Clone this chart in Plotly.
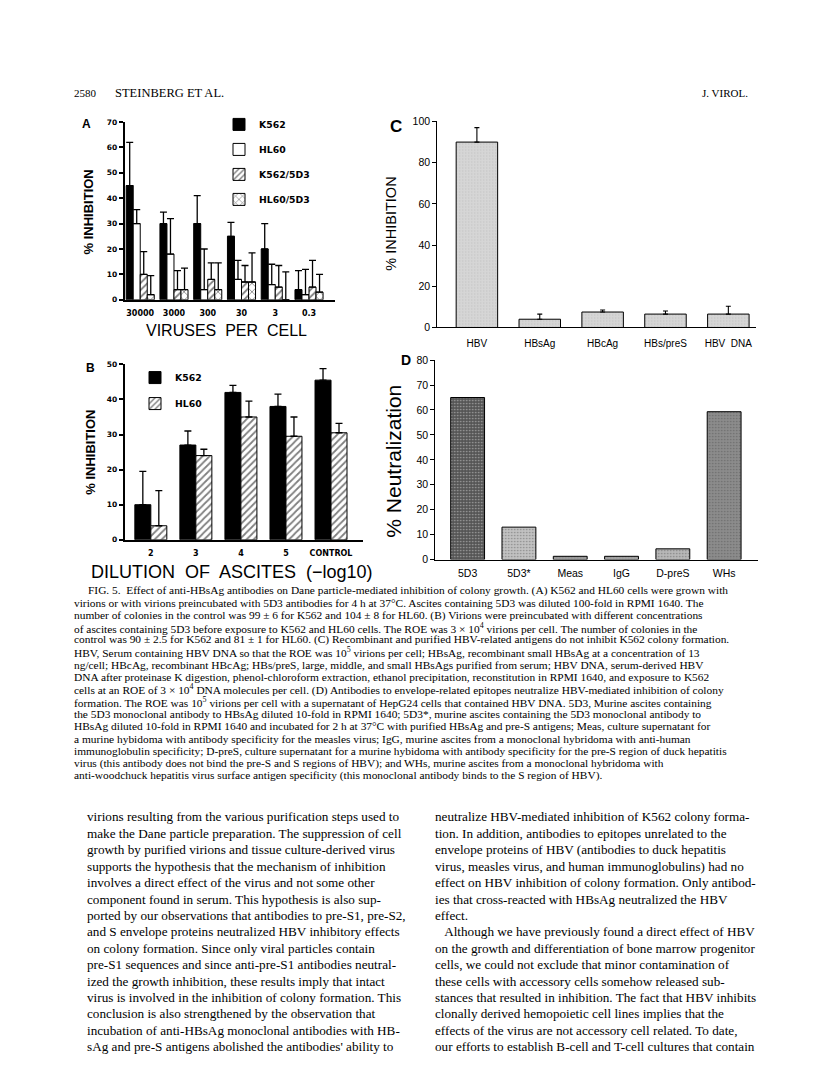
import plotly.graph_objects as go

W, H = 816, 1077


def px(x):
    return x / W


def py(y):
    return 1 - y / H


# ---- panel A: viruses per cell ----
a_doses = ["30000", "3000", "300", "30", "3", "0.3"]
a_k562 = [45, 30, 30, 25, 20, 4]
a_k562_sd = [17, 4.5, 11, 5.5, 10, 7.5]
a_hl60 = [30, 18, 4, 8, 6, 2]
a_hl60_sd = [5.5, 14, 16, 7.5, 8, 10]
a_k562_5d3 = [10, 4, 8, 7, 5, 5]
a_k562_5d3_sd = [9, 7.5, 6.5, 6.5, 8.5, 10.5]
a_hl60_5d3 = [2, 4, 4, 7, 0, 3]
a_hl60_5d3_sd = [7.5, 8.5, 10.5, 11.5, 11, 7]

# ---- panel B: dilution of ascites ----
b_dilutions = ["2", "3", "4", "5", "CONTROL"]
b_k562 = [10, 27, 42, 38, 45.5]
b_k562_sd = [9.5, 4, 2, 3.5, 3.3]
b_hl60 = [4, 24, 35, 29.5, 30.5]
b_hl60_sd = [10, 1.8, 4.5, 5.5, 2.7]

# ---- panel C: antigens ----
c_antigens = ["HBV", "HBsAg", "HBcAg", "HBs/preS", "HBV  DNA"]
c_inhibition = [90, 4, 7.5, 6.5, 6.5]
c_sd = [7, 2.5, 1, 1.5, 3.8]

# ---- panel D: antibodies ----
d_antibodies = ["5D3", "5D3*", "Meas", "IgG", "D-preS", "WHs"]
d_neutralization = [65, 13, 1.3, 1.3, 4.3, 59.3]
d_fill = ["#555555", "#c2c2c2", "#9c9c9c", "#a4a4a4", "#b8b8b8", "#8c8c8c"]
d_speck = ["#303030", "#9a9a9a", "#777777", "#7d7d7d", "#8e8e8e", "#636363"]

header_left = ["2580", "STEINBERG ET AL."]
header_right = "J. VIROL."

caption = [
    "FIG. 5.  Effect of anti-HBsAg antibodies on Dane particle-mediated inhibition of colony growth. (A) K562 and HL60 cells were grown with",
    "virions or with virions preincubated with 5D3 antibodies for 4 h at 37°C. Ascites containing 5D3 was diluted 100-fold in RPMI 1640. The",
    "number of colonies in the control was 99 ± 6 for K562 and 104 ± 8 for HL60. (B) Virions were preincubated with different concentrations",
    "of ascites containing 5D3 before exposure to K562 and HL60 cells. The ROE was 3 × 10<sup>4</sup> virions per cell. The number of colonies in the",
    "control was 90 ± 2.5 for K562 and 81 ± 1 for HL60. (C) Recombinant and purified HBV-related antigens do not inhibit K562 colony formation.",
    "HBV, Serum containing HBV DNA so that the ROE was 10<sup>5</sup> virions per cell; HBsAg, recombinant small HBsAg at a concentration of 13",
    "ng/cell; HBcAg, recombinant HBcAg; HBs/preS, large, middle, and small HBsAgs purified from serum; HBV DNA, serum-derived HBV",
    "DNA after proteinase K digestion, phenol-chloroform extraction, ethanol precipitation, reconstitution in RPMI 1640, and exposure to K562",
    "cells at an ROE of 3 × 10<sup>4</sup> DNA molecules per cell. (D) Antibodies to envelope-related epitopes neutralize HBV-mediated inhibition of colony",
    "formation. The ROE was 10<sup>5</sup> virions per cell with a supernatant of HepG24 cells that contained HBV DNA. 5D3, Murine ascites containing",
    "the 5D3 monoclonal antibody to HBsAg diluted 10-fold in RPMI 1640; 5D3*, murine ascites containing the 5D3 monoclonal antibody to",
    "HBsAg diluted 10-fold in RPMI 1640 and incubated for 2 h at 37°C with purified HBsAg and pre-S antigens; Meas, culture supernatant for",
    "a murine hybidoma with antibody specificity for the measles virus; IgG, murine ascites from a monoclonal hybridoma with anti-human",
    "immunoglobulin specificity; D-preS, culture supernatant for a murine hybidoma with antibody specificity for the pre-S region of duck hepatitis",
    "virus (this antibody does not bind the pre-S and S regions of HBV); and WHs, murine ascites from a monoclonal hybridoma with",
    "anti-woodchuck hepatitis virus surface antigen specificity (this monoclonal antibody binds to the S region of HBV).",
]

body_left = [
    "virions resulting from the various purification steps used to",
    "make the Dane particle preparation. The suppression of cell",
    "growth by purified virions and tissue culture-derived virus",
    "supports the hypothesis that the mechanism of inhibition",
    "involves a direct effect of the virus and not some other",
    "component found in serum. This hypothesis is also sup-",
    "ported by our observations that antibodies to pre-S1, pre-S2,",
    "and S envelope proteins neutralized HBV inhibitory effects",
    "on colony formation. Since only viral particles contain",
    "pre-S1 sequences and since anti-pre-S1 antibodies neutral-",
    "ized the growth inhibition, these results imply that intact",
    "virus is involved in the inhibition of colony formation. This",
    "conclusion is also strengthened by the observation that",
    "incubation of anti-HBsAg monoclonal antibodies with HB-",
    "sAg and pre-S antigens abolished the antibodies' ability to",
]

body_right = [
    "neutralize HBV-mediated inhibition of K562 colony forma-",
    "tion. In addition, antibodies to epitopes unrelated to the",
    "envelope proteins of HBV (antibodies to duck hepatitis",
    "virus, measles virus, and human immunoglobulins) had no",
    "effect on HBV inhibition of colony formation. Only antibod-",
    "ies that cross-reacted with HBsAg neutralized the HBV",
    "effect.",
    "   Although we have previously found a direct effect of HBV",
    "on the growth and differentiation of bone marrow progenitor",
    "cells, we could not exclude that minor contamination of",
    "these cells with accessory cells somehow released sub-",
    "stances that resulted in inhibition. The fact that HBV inhibits",
    "clonally derived hemopoietic cell lines implies that the",
    "effects of the virus are not accessory cell related. To date,",
    "our efforts to establish B-cell and T-cell cultures that contain",
]

HEAVY = dict(family="DejaVu Sans", color="black", weight="bold")
SANS = dict(family="Liberation Sans", color="black")
SERIF = dict(family="Liberation Serif", color="black")


def err(sd, cap=3.5, thick=1.3):
    return dict(type="data", symmetric=False, array=sd, arrayminus=[0] * len(sd),
                color="black", thickness=thick, width=cap)


fig = go.Figure()

# panel A bars
bw = 0.208
a_series = [
    ("K562", a_k562, a_k562_sd, dict(color="black")),
    ("HL60", a_hl60, a_hl60_sd, dict(color="white")),
    ("K562/5D3", a_k562_5d3, a_k562_5d3_sd,
     dict(color="white", pattern=dict(shape="/", fgcolor="black", bgcolor="white", size=5, solidity=0.35))),
    ("HL60/5D3", a_hl60_5d3, a_hl60_5d3_sd,
     dict(color="white", pattern=dict(shape="x", fgcolor="black", bgcolor="white", size=6, solidity=0.25))),
]
for i, (name, vals, sd, mk) in enumerate(a_series):
    mk = dict(mk, line=dict(color="black", width=1))
    fig.add_trace(go.Bar(
        x=list(range(len(a_doses))), y=vals, name=name, marker=mk,
        width=bw, offset=-2 * bw + i * bw, error_y=err(sd),
        xaxis="x", yaxis="y", legend="legend", legendgroup=name,
    ))

# panel B bars
bw_b = 0.355
b_series = [
    ("K562", b_k562, b_k562_sd, dict(color="black")),
    ("HL60", b_hl60, b_hl60_sd,
     dict(color="white", pattern=dict(shape="/", fgcolor="black", bgcolor="white", size=5, solidity=0.35))),
]
for i, (name, vals, sd, mk) in enumerate(b_series):
    mk = dict(mk, line=dict(color="black", width=1))
    fig.add_trace(go.Bar(
        x=list(range(len(b_dilutions))), y=vals, name=name, marker=mk,
        width=bw_b, offset=-bw_b + i * bw_b, error_y=err(sd, cap=3.5),
        xaxis="x3", yaxis="y3", legend="legend2", legendgroup="b" + name,
    ))

# panel C bars
fig.add_trace(go.Bar(
    x=list(range(len(c_antigens))), y=c_inhibition, width=0.66, showlegend=False,
    marker=dict(color="#d3d3d3", line=dict(color="black", width=1),
                pattern=dict(shape=".", fgcolor="#a8a8a8", bgcolor="#d6d6d6", size=3, solidity=0.15)),
    error_y=err(c_sd, cap=2.5, thick=1.1), xaxis="x2", yaxis="y2",
))

# panel D bars
fig.add_trace(go.Bar(
    x=list(range(len(d_antibodies))), y=d_neutralization, width=0.66, showlegend=False,
    marker=dict(color=d_fill, line=dict(color="black", width=1),
                pattern=dict(shape=".", fgcolor=d_speck, bgcolor=d_fill, size=3, solidity=0.2)),
    xaxis="x4", yaxis="y4",
))

hidden_tick = dict(ticks="outside", tickcolor="rgba(0,0,0,0)")
common = dict(showgrid=False, zeroline=False, showline=True, linecolor="black", fixedrange=True)

fig.update_layout(
    width=W, height=H, margin=dict(l=0, r=0, t=0, b=0),
    paper_bgcolor="white", plot_bgcolor="white", barmode="overlay",
    xaxis=dict(common, domain=[px(116.7), px(327)], range=[-0.46, 5.77], anchor="y",
               tickvals=list(range(len(a_doses))), ticktext=a_doses, linewidth=2,
               ticklen=5, tickfont=dict(HEAVY, size=8), **hidden_tick),
    yaxis=dict(common, domain=[py(289), py(109.3)], range=[0, 70], anchor="x", dtick=10,
               linewidth=2, ticks="outside", ticklen=4, tickwidth=1.5, tickcolor="black",
               tickfont=dict(HEAVY, size=7.5)),
    xaxis3=dict(common, domain=[px(116.7), px(355)], range=[-0.58, 4.71], anchor="y3",
                tickvals=list(range(len(b_dilutions))), ticktext=b_dilutions, linewidth=2,
                ticklen=5, tickfont=dict(HEAVY, size=8), **hidden_tick),
    yaxis3=dict(common, domain=[py(531.7), py(354.3)], range=[0, 50], anchor="x3", dtick=10,
                linewidth=2, ticks="outside", ticklen=4, tickwidth=1.5, tickcolor="black",
                tickfont=dict(HEAVY, size=7.5)),
    xaxis2=dict(common, domain=[px(429.3), px(748)], range=[-0.63, 4.44], anchor="y2",
                tickvals=list(range(len(c_antigens))), ticktext=c_antigens, linewidth=1.2,
                ticklen=6, tickfont=dict(SANS, size=10), **hidden_tick),
    yaxis2=dict(common, domain=[py(317), py(108.7)], range=[0, 100], anchor="x2", dtick=20,
                linewidth=1.2, ticks="outside", ticklen=4, tickwidth=1, tickcolor="black",
                tickfont=dict(SANS, size=10.5)),
    xaxis4=dict(common, domain=[px(427.3), px(750)], range=[-0.63, 5.66], anchor="y4",
                tickvals=list(range(len(d_antibodies))), ticktext=d_antibodies, linewidth=1.2,
                ticklen=4, tickfont=dict(SANS, size=10.5), **hidden_tick),
    yaxis4=dict(common, domain=[py(551.7), py(350)], range=[0, 80], anchor="x4", dtick=10,
                linewidth=1.2, ticks="outside", ticklen=4, tickwidth=1, tickcolor="black",
                tickfont=dict(SANS, size=10.5)),
    legend=dict(x=px(211), y=py(97), xanchor="left", yanchor="top", bgcolor="rgba(0,0,0,0)",
                font=dict(HEAVY, size=9.3), tracegroupgap=6, itemwidth=30),
    legend2=dict(x=px(127), y=py(353), xanchor="left", yanchor="top", bgcolor="rgba(0,0,0,0)",
                 font=dict(HEAVY, size=9.3), tracegroupgap=7, itemwidth=30),
)


def note(text, x, y, font, xanchor="left", angle=0):
    fig.add_annotation(text=text, x=px(x), y=py(y), xref="paper", yref="paper",
                       xanchor=xanchor, yanchor="middle", showarrow=False,
                       font=font, textangle=angle)


# page header
note(header_left[0], 64, 80, dict(SERIF, size=11))
note(header_left[1], 105, 80, dict(SERIF, size=12.5))
note(header_right, 742, 80, dict(SERIF, size=11), xanchor="right")

# panel letters and axis titles
note("A", 78.5, 111, dict(SANS, size=12, weight="bold"), xanchor="center")
note("B", 82.5, 358, dict(SANS, size=12, weight="bold"), xanchor="center")
note("C", 387.5, 114, dict(SANS, size=17, weight="bold"), xanchor="center")
note("D", 398, 350, dict(SANS, size=14, weight="bold"), xanchor="center")
note("% INHIBITION", 80.7, 200, dict(SANS, size=13, weight="bold"), xanchor="center", angle=-90)
note("% INHIBITION", 81.7, 443, dict(SANS, size=13, weight="bold"), xanchor="center", angle=-90)
note("% INHIBITION", 383, 212, dict(SANS, size=14.5), xanchor="center", angle=-90)
note("% Neutralization", 385.7, 452, dict(SANS, size=21), xanchor="center", angle=-90)
note("VIRUSES  PER  CELL", 218, 320, dict(SANS, size=16), xanchor="center")
note("DILUTION  OF  ASCITES  (\u2212log10)", 224, 564, dict(SANS, size=18), xanchor="center")

# figure caption
for i, line in enumerate(caption):
    note(line, 78 if i == 0 else 64, 583 + i * 12.5, dict(SERIF, size=11.4))

# body text, two columns
for i, line in enumerate(body_left):
    note(line, 77, 812 + i * 16.6, dict(SERIF, size=13.2))
for i, line in enumerate(body_right):
    note(line, 425, 812 + i * 16.6, dict(SERIF, size=13.2))

fig.write_html("out.html")
